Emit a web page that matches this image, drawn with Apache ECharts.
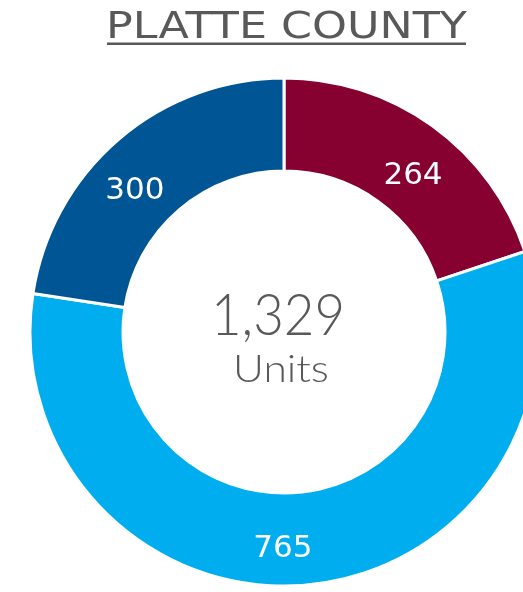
<!DOCTYPE html>
<html>
<head>
<meta charset="utf-8">
<script src="https://cdn.jsdelivr.net/npm/echarts@6/dist/echarts.min.js"></script>
<style>
  html, body { margin: 0; padding: 0; background: #fff; }
  #chart { width: 523px; height: 592px; }
</style>
</head>
<body>
<div id="chart"></div>
<script>
const categories = ["Red segment", "Light blue segment", "Dark blue segment"];
const unitValues = [264, 765, 300];
const segmentColors = ["#860030", "#00AEEF", "#005694"];
const titleText = "PLATTE COUNTY";
const centerLabel = "Units";

// label nudges so the numbers sit where the original has them
const labelOffsets = [[6, 15], [-19, 7], [-12, 19]];

const total = unitValues.reduce((a, b) => a + b, 0);
const chart = echarts.init(document.getElementById("chart"));

const option = {
  animation: false,
  color: segmentColors,
  graphic: [
    {
      type: "text",
      x: 286.5,
      y: 28,
      scaleX: 1.2,
      style: {
        text: titleText,
        fontFamily: "DejaVu Sans",
        fontSize: 37,
        fill: "#595959",
        align: "center",
        verticalAlign: "middle"
      }
    },
    {
      type: "rect",
      shape: { x: 107, y: 42.5, width: 359, height: 2.5 },
      style: { fill: "#595959" }
    },
    {
      type: "text",
      x: 278,
      y: 316,
      scaleX: 0.91,
      style: {
        text: total.toLocaleString("en-US"),
        fontFamily: "Lato",
        fontWeight: 300,
        fontSize: 58,
        fill: "#595959",
        align: "center",
        verticalAlign: "middle"
      }
    },
    {
      type: "text",
      x: 281,
      y: 370,
      scaleX: 1.15,
      style: {
        text: centerLabel,
        fontFamily: "Lato",
        fontWeight: 300,
        fontSize: 37,
        fill: "#595959",
        align: "center",
        verticalAlign: "middle"
      }
    }
  ],
  series: [
    {
      type: "pie",
      center: [284, 332],
      radius: [161, 254],
      startAngle: 90,
      clockwise: true,
      avoidLabelOverlap: false,
      itemStyle: { borderColor: "#fff", borderWidth: 3 },
      label: {
        show: true,
        position: "inside",
        formatter: "{c}",
        color: "#fff",
        fontFamily: "DejaVu Sans",
        fontSize: 31
      },
      labelLine: { show: false },
      data: categories.map((name, i) => ({
        name: name,
        value: unitValues[i],
        label: { offset: labelOffsets[i] }
      }))
    }
  ]
};

chart.setOption(option);
</script>
</body>
</html>
